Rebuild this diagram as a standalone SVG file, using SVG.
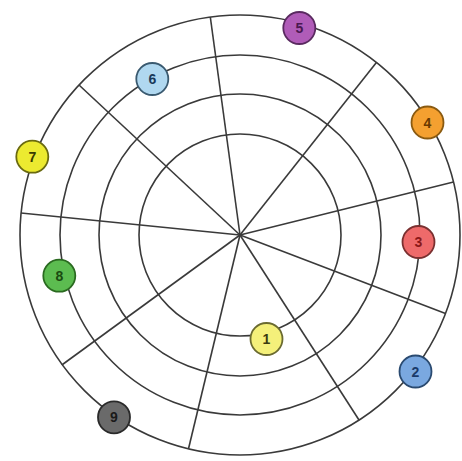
<svg xmlns="http://www.w3.org/2000/svg" width="462" height="461" viewBox="0 0 462 461">
<style>
.ring{fill:none;stroke:#3a3a3a;stroke-width:1.6}
.spoke{stroke:#3a3a3a;stroke-width:1.6}
.node circle{stroke-width:1.8}
.node text{font-family:"Liberation Sans",Arial,sans-serif;font-size:14px;font-weight:bold;text-anchor:middle;dominant-baseline:central}
</style>
<rect width="462" height="461" fill="#ffffff"/>
<g id="grid">
<circle class="ring" cx="240" cy="235" r="101"/>
<circle class="ring" cx="240" cy="235" r="141"/>
<circle class="ring" cx="240" cy="235" r="180"/>
<circle class="ring" cx="240" cy="235" r="220"/>
</g>
<g id="connectors">
<line class="spoke" x1="240" y1="235" x2="210.3" y2="17"/>
<line class="spoke" x1="240" y1="235" x2="79" y2="85"/>
<line class="spoke" x1="240" y1="235" x2="21" y2="213"/>
<line class="spoke" x1="240" y1="235" x2="376.6" y2="62.3"/>
<line class="spoke" x1="240" y1="235" x2="453.5" y2="182"/>
<line class="spoke" x1="240" y1="235" x2="445.5" y2="313.6"/>
<line class="spoke" x1="240" y1="235" x2="359" y2="420"/>
<line class="spoke" x1="240" y1="235" x2="188.5" y2="448.8"/>
<line class="spoke" x1="240" y1="235" x2="61.8" y2="365"/>
</g>
<g id="n1" class="node"><circle cx="266.5" cy="339" r="16" fill="#f4f07a" stroke="#6a6a30"/><text x="266.5" y="339" fill="#3a3a10">1</text></g>
<g id="n2" class="node"><circle cx="415.5" cy="371.5" r="16" fill="#7aa8e0" stroke="#2a4a70"/><text x="415.5" y="371.5" fill="#1a3a6a">2</text></g>
<g id="n3" class="node"><circle cx="418.5" cy="242" r="16" fill="#ee6a6a" stroke="#7a3030"/><text x="418.5" y="242" fill="#8a1818">3</text></g>
<g id="n4" class="node"><circle cx="427.5" cy="122.5" r="16" fill="#f4a030" stroke="#8a5a10"/><text x="427.5" y="122.5" fill="#6a3a00">4</text></g>
<g id="n5" class="node"><circle cx="299.3" cy="28" r="16" fill="#b05cb8" stroke="#5a2a60"/><text x="299.3" y="28" fill="#4a1850">5</text></g>
<g id="n6" class="node"><circle cx="152.3" cy="79" r="16" fill="#b0d8f0" stroke="#3a5a70"/><text x="152.3" y="79" fill="#1a3a5a">6</text></g>
<g id="n7" class="node"><circle cx="32.3" cy="156.7" r="16" fill="#ecea30" stroke="#6a6a10"/><text x="32.3" y="156.7" fill="#3a3a00">7</text></g>
<g id="n8" class="node"><circle cx="59.3" cy="275.7" r="16" fill="#5cbc50" stroke="#2a6a20"/><text x="59.3" y="275.7" fill="#1a4a10">8</text></g>
<g id="n9" class="node"><circle cx="114" cy="417.3" r="16" fill="#6a6a6a" stroke="#2a2a2a"/><text x="114" y="417.3" fill="#1a1a1a">9</text></g>
</svg>
